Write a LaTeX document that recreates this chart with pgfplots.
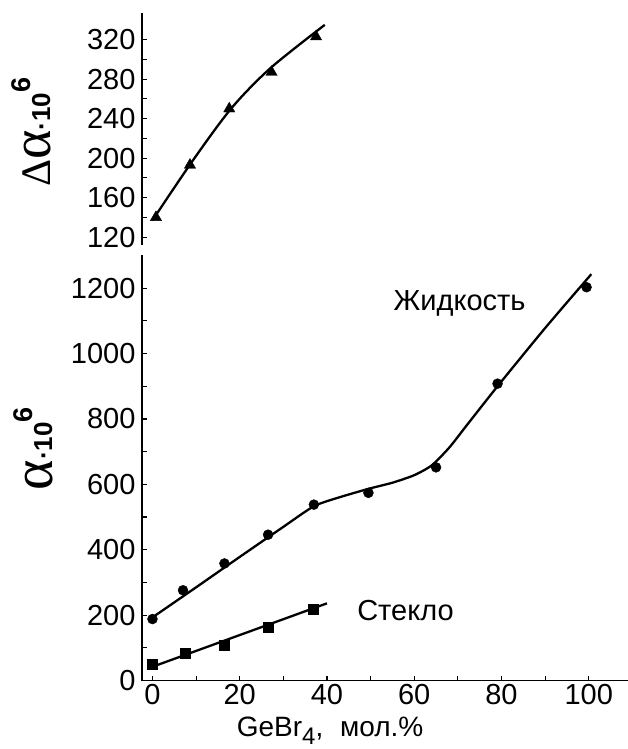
\documentclass[border=0pt]{standalone}
\usepackage{fontspec}
\setmainfont{Liberation Sans}
\newfontfamily\greekfont{Liberation Serif}
\usepackage{pgfplots}
\pgfplotsset{compat=1.18}

\pgfplotsset{
  common/.style={
    scale only axis,
    width=486pt,
    xmin=-2.4, xmax=109,
    tick align=inside,
    major tick length=5pt,
    minor tick length=5pt,
    axis line style={line width=1.4pt},
    every tick/.style={line width=1.1pt, black},
    minor tick num=1,
    tick label style={font=\fontsize{29}{29}\selectfont},
    /pgf/number format/assume math mode=true,
    /pgf/number format/1000 sep={},
    yticklabel style={xshift=-3pt},
  },
}

\begin{document}
\begin{tikzpicture}
\useasboundingbox (-142pt,-68.5pt) rectangle (486pt,680.5pt);

% lower panel: liquid and glass
\begin{axis}[
  common,
  at={(0,0)}, anchor=south west,
  height=425pt,
  ymin=0, ymax=1300,
  axis lines*=left,
  xtick={0,20,...,100},
  ytick={0,200,...,1200},
  xlabel={GeBr\raisebox{-0.3em}{\fontsize{24}{24}\selectfont 4},\hspace{0.6em}мол.\%},
  xlabel style={font=\fontsize{28}{28}\selectfont, at={(axis description cs:0.387,-0.118)}, anchor=center},
  ylabel={{\greekfont\fontsize{58}{58}\selectfont α}{\fontsize{26}{26}\selectfont\bfseries ·10\raisebox{0.75em}{\fontsize{27}{27}\selectfont 6}}},
  ylabel style={at={(axis description cs:-0.224,0.545)}, anchor=center},
]
% liquid: fitted curve
\addplot[smooth, tension=0.4, line width=2.3pt] coordinates {
  (0,193) (10,285) (20,378) (30,470) (37,533) (43,561) (50,588)
  (55,605) (60,628) (64,658) (68,712) (72,780) (76,848) (80,915)
  (90,1078) (100.6,1243)
};
% liquid: measured
\addplot[only marks, mark=*, mark size=5pt] coordinates {
  (0,188) (7,276) (16.5,358) (26.5,446) (37,538) (49.5,574) (65,652) (79.1,908) (99.5,1203)
};
% glass: fitted line
\addplot[line width=2.3pt] coordinates {(0,42) (40,236)};
% glass: measured
\addplot[only marks, mark=square*, mark size=5pt] coordinates {
  (0,50) (7.4,85) (16.4,108) (26.5,164) (36.8,218)
};
\node[font=\fontsize{29}{29}\selectfont] at (axis cs:70.4,1153) {Жидкость};
\node[font=\fontsize{29}{29}\selectfont] at (axis cs:58,215) {Стекло};
\end{axis}

% upper panel: difference
\begin{axis}[
  common,
  at={(0,435.5pt)}, anchor=south west,
  height=232pt,
  ymin=112, ymax=347,
  hide x axis,
  axis y line*=left,
  ytick={120,160,...,320},
  ylabel={{\greekfont\fontsize{42}{42}\selectfont Δ\fontsize{56}{56}\selectfont α}{\fontsize{26}{26}\selectfont\bfseries ·10\raisebox{0.75em}{\fontsize{27}{27}\selectfont 6}}},
  ylabel style={at={(axis description cs:-0.228,0.487)}, anchor=center},
]
\addplot[smooth, tension=0.5, line width=2.3pt] coordinates {
  (0,137) (9,196) (18,250) (27,291) (39.5,335)
};
\addplot[only marks, mark=triangle*, mark size=6.5pt] coordinates {
  (0.8,140) (8.6,193) (17.6,250) (27.3,287) (37.5,323)
};
\end{axis}
\end{tikzpicture}
\end{document}
